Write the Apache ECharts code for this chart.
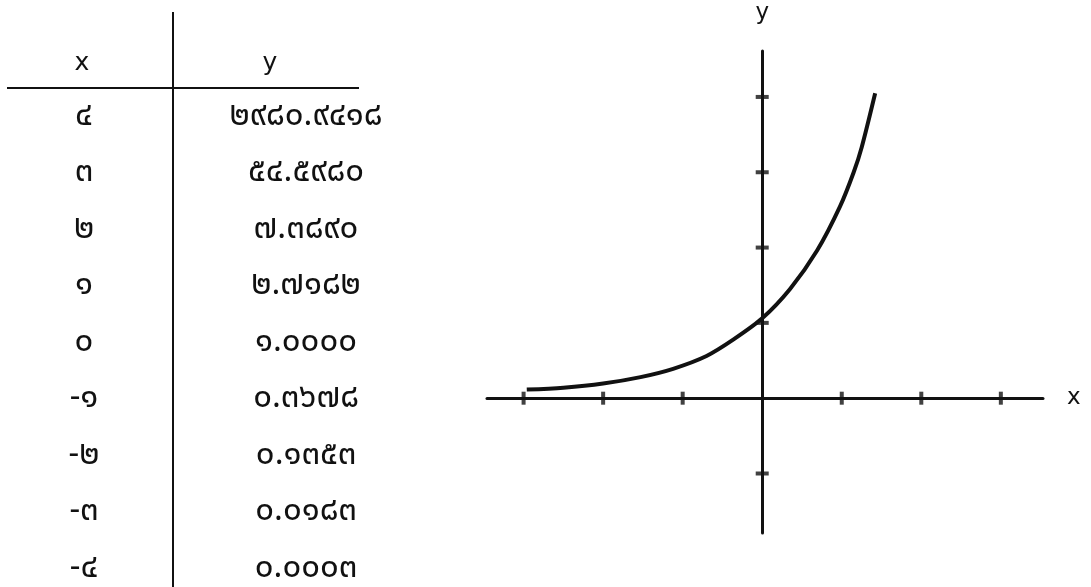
<!DOCTYPE html>
<html>
<head>
<meta charset="utf-8">
<style>
  html, body { margin: 0; padding: 0; background: #fff; }
  #main { width: 1091px; height: 587px; }
</style>
<script src="https://cdn.jsdelivr.net/npm/echarts@6/dist/echarts.min.js"></script>
</head>
<body>
<div id="main"></div>
<script>
// ตาราง x, y
const tableHead = ['x', 'y']
const tableX = ['๔', '๓', '๒', '๑', '๐', '-๑', '-๒', '-๓', '-๔']
const tableY = ['๒๙๘๐.๙๔๑๘', '๕๔.๕๙๘๐', '๗.๓๘๙๐', '๒.๗๑๘๒', '๑.๐๐๐๐', '๐.๓๖๗๘', '๐.๑๓๕๓', '๐.๐๑๘๓', '๐.๐๐๐๓']

// จุดบนเส้นโค้ง (อ่านจากรูป)
const curveX = [-2.96, -2.5, -2.0, -1.53, -1.12, -0.70, -0.36, 0, 0.35, 0.69, 0.98, 1.15, 1.25, 1.42]
const curveY = [0.115, 0.14, 0.195, 0.28, 0.39, 0.56, 0.78, 1.06, 1.45, 1.96, 2.55, 3.0, 3.33, 4.05]

// ขีดบนแกน
const ticksX = [-3, -2, -1, 1, 2, 3]
const ticksY = [-1, 1, 2, 3, 4]

const thaiFont = '"Noto Sans Thai", "Noto Sans", "DejaVu Sans", sans-serif'
const latinFont = '"DejaVu Sans", sans-serif'

let mychart = echarts.init(document.getElementById('main'))

// สร้างตารางด้วย graphic
let graphics = [
  { type: 'line', shape: { x1: 173, y1: 12, x2: 173, y2: 587 }, style: { stroke: '#111', lineWidth: 2 } },
  { type: 'line', shape: { x1: 7, y1: 88, x2: 359, y2: 88 }, style: { stroke: '#111', lineWidth: 2 } },
  { type: 'text', x: 82, y: 63, style: { text: tableHead[0], fill: '#111', font: '25px ' + latinFont, align: 'center', verticalAlign: 'middle' } },
  { type: 'text', x: 270, y: 63, style: { text: tableHead[1], fill: '#111', font: '25px ' + latinFont, align: 'center', verticalAlign: 'middle' } }
]
for (let i = 0; i < tableX.length; i++) {
  let y = 118 + i * 56.5
  graphics.push({ type: 'text', x: 84, y: y, style: { text: tableX[i], fill: '#111', font: '33px ' + thaiFont, align: 'center', verticalAlign: 'middle' } })
  graphics.push({ type: 'text', x: 306, y: y, style: { text: tableY[i], fill: '#111', font: '33px ' + thaiFont, align: 'center', verticalAlign: 'middle' } })
}

let option = {
  backgroundColor: '#fff',
  animation: false,
  graphic: graphics,
  grid: { left: 487, right: 48, top: 51, bottom: 54, containLabel: false },
  xAxis: {
    type: 'value',
    min: -3.46,
    max: 3.53,
    name: 'x',
    nameLocation: 'end',
    nameGap: 24,
    nameTextStyle: { color: '#111', fontSize: 23, fontFamily: latinFont },
    axisLine: { onZero: true, lineStyle: { color: '#111', width: 3 } },
    axisTick: { show: false },
    axisLabel: { show: false },
    splitLine: { show: false }
  },
  yAxis: {
    type: 'value',
    min: -1.79,
    max: 4.61,
    name: 'y',
    nameLocation: 'end',
    nameGap: 26,
    nameTextStyle: { color: '#111', fontSize: 23, fontFamily: latinFont, align: 'center' },
    axisLine: { onZero: true, lineStyle: { color: '#111', width: 3 } },
    axisTick: { show: false },
    axisLabel: { show: false },
    splitLine: { show: false }
  },
  series: [
    {
      type: 'line',
      smooth: 0.3,
      symbol: 'none',
      lineStyle: { color: '#111', width: 4 },
      data: curveX.map((x, i) => [x, curveY[i]]),
      z: 3
    },
    {
      type: 'scatter',
      symbol: 'rect',
      symbolSize: [4, 13],
      itemStyle: { color: '#111' },
      data: ticksX.map(t => [t, 0]),
      z: 4
    },
    {
      type: 'scatter',
      symbol: 'rect',
      symbolSize: [13, 4],
      itemStyle: { color: '#111' },
      data: ticksY.map(t => [0, t]),
      z: 4
    }
  ]
}
mychart.setOption(option)
</script>
</body>
</html>
